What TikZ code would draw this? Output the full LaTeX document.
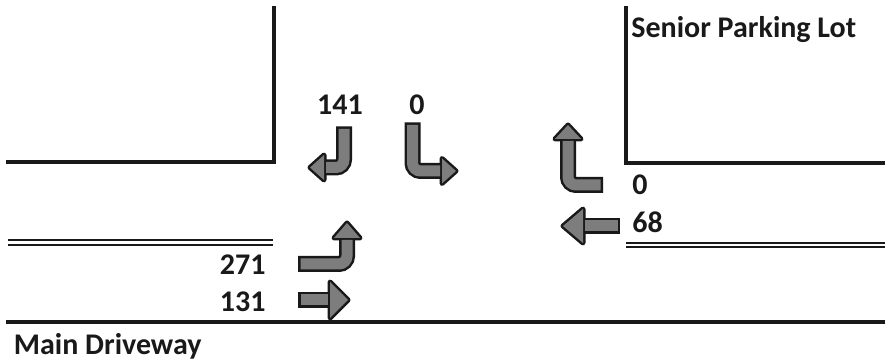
\documentclass[tikz,border=0pt]{standalone}
\usepackage{fontspec}
\setmainfont{Carlito}
\usepackage{tikz}
\usetikzlibrary{positioning}
\definecolor{Ink}{RGB}{25,25,25}
\definecolor{ArrowGray}{RGB}{125,125,125}
\tikzset{%
  curb/.style={%
    draw=Ink,%
    line width=2pt,%
    line cap=rect,%
  },
  median/.style={%
    draw=Ink,%
    double=white,%
    double distance=1.1pt,%
    line width=1.1pt,%
  },
  shaft_outer/.style={%
    draw=Ink,%
    line width=8pt,%
    line cap=rect,%
    rounded corners=4pt,%
  },
  shaft_inner/.style={%
    draw=ArrowGray,%
    line width=5.5pt,%
    line cap=rect,%
    rounded corners=4pt,%
  },
  head_outer/.style={%
    draw=Ink,%
    fill=Ink,%
    line width=2.5pt,%
    line join=round,%
  },
  head_inner/.style={%
    fill=ArrowGray,%
  },
  volume/.style={%
    font={\fontsize{15}{18}\selectfont\bfseries},%
    text=Ink,%
    inner sep=0pt,%
  },
}
% shaft path, head triangle
\newcommand{\movearrow}[2]{%
  \draw [shaft_outer] #1;
  \filldraw [head_outer] #2 -- cycle;
  \draw [shaft_inner] #1;
  \fill [head_inner] #2 -- cycle;
}

\begin{document}
\begin{tikzpicture}[x=0.5pt, y=-0.5pt]
    \useasboundingbox (0,0) rectangle (885,362);

    % curbs
    \draw [curb] (274,8) -- (274,162) -- (8,162);
    \draw [curb] (626,8) -- (626,163) -- (885,163);
    \draw [median] (8,242.5) -- (273,242.5);
    \draw [median] (626,245) -- (885,245);
    \draw [curb] (8,322.5) -- (884,322.5);

    % southbound
    \movearrow
      {(344,134.5) -- (344,167.5) -- (331.5,167.5)}
      {(324,155) -- (310,167.5) -- (324,180)}
    \movearrow
      {(412.5,130.5) -- (412.5,171) -- (434.5,171)}
      {(442,158.5) -- (456,171) -- (442,183.5)}

    % eastbound
    \movearrow
      {(306,264) -- (347,264) -- (347,245.5)}
      {(334,238) -- (347,223) -- (360,238)}
    \movearrow
      {(306,300) -- (322.5,300)}
      {(330,282) -- (348,300) -- (330,318)}

    % westbound
    \movearrow
      {(595,185) -- (568,185) -- (568,146.5)}
      {(555,139) -- (568,125) -- (581,139)}
    \movearrow
      {(612,226) -- (590.5,226)}
      {(583,209) -- (563,226) -- (583,243)}

    \node [volume, anchor=base west] (SPL) at (631,38) {Senior Parking Lot};
    \node [volume, anchor=base] (SB_R) at (340,115) {141};
    \node [volume, anchor=base] (SB_L) at (417,115) {0};
    \node [volume, anchor=base west] (WB_R) at (632,195) {0};
    \node [volume, anchor=base west] (WB_T) at (632,233) {68};
    \node [volume, anchor=base east] (EB_L) at (266,275) {271};
    \node [volume, anchor=base east] (EB_T) at (266,312) {131};
    \node [volume, anchor=base west] (MD) at (13.5,355) {Main Driveway};
  \end{tikzpicture}
\end{document}
